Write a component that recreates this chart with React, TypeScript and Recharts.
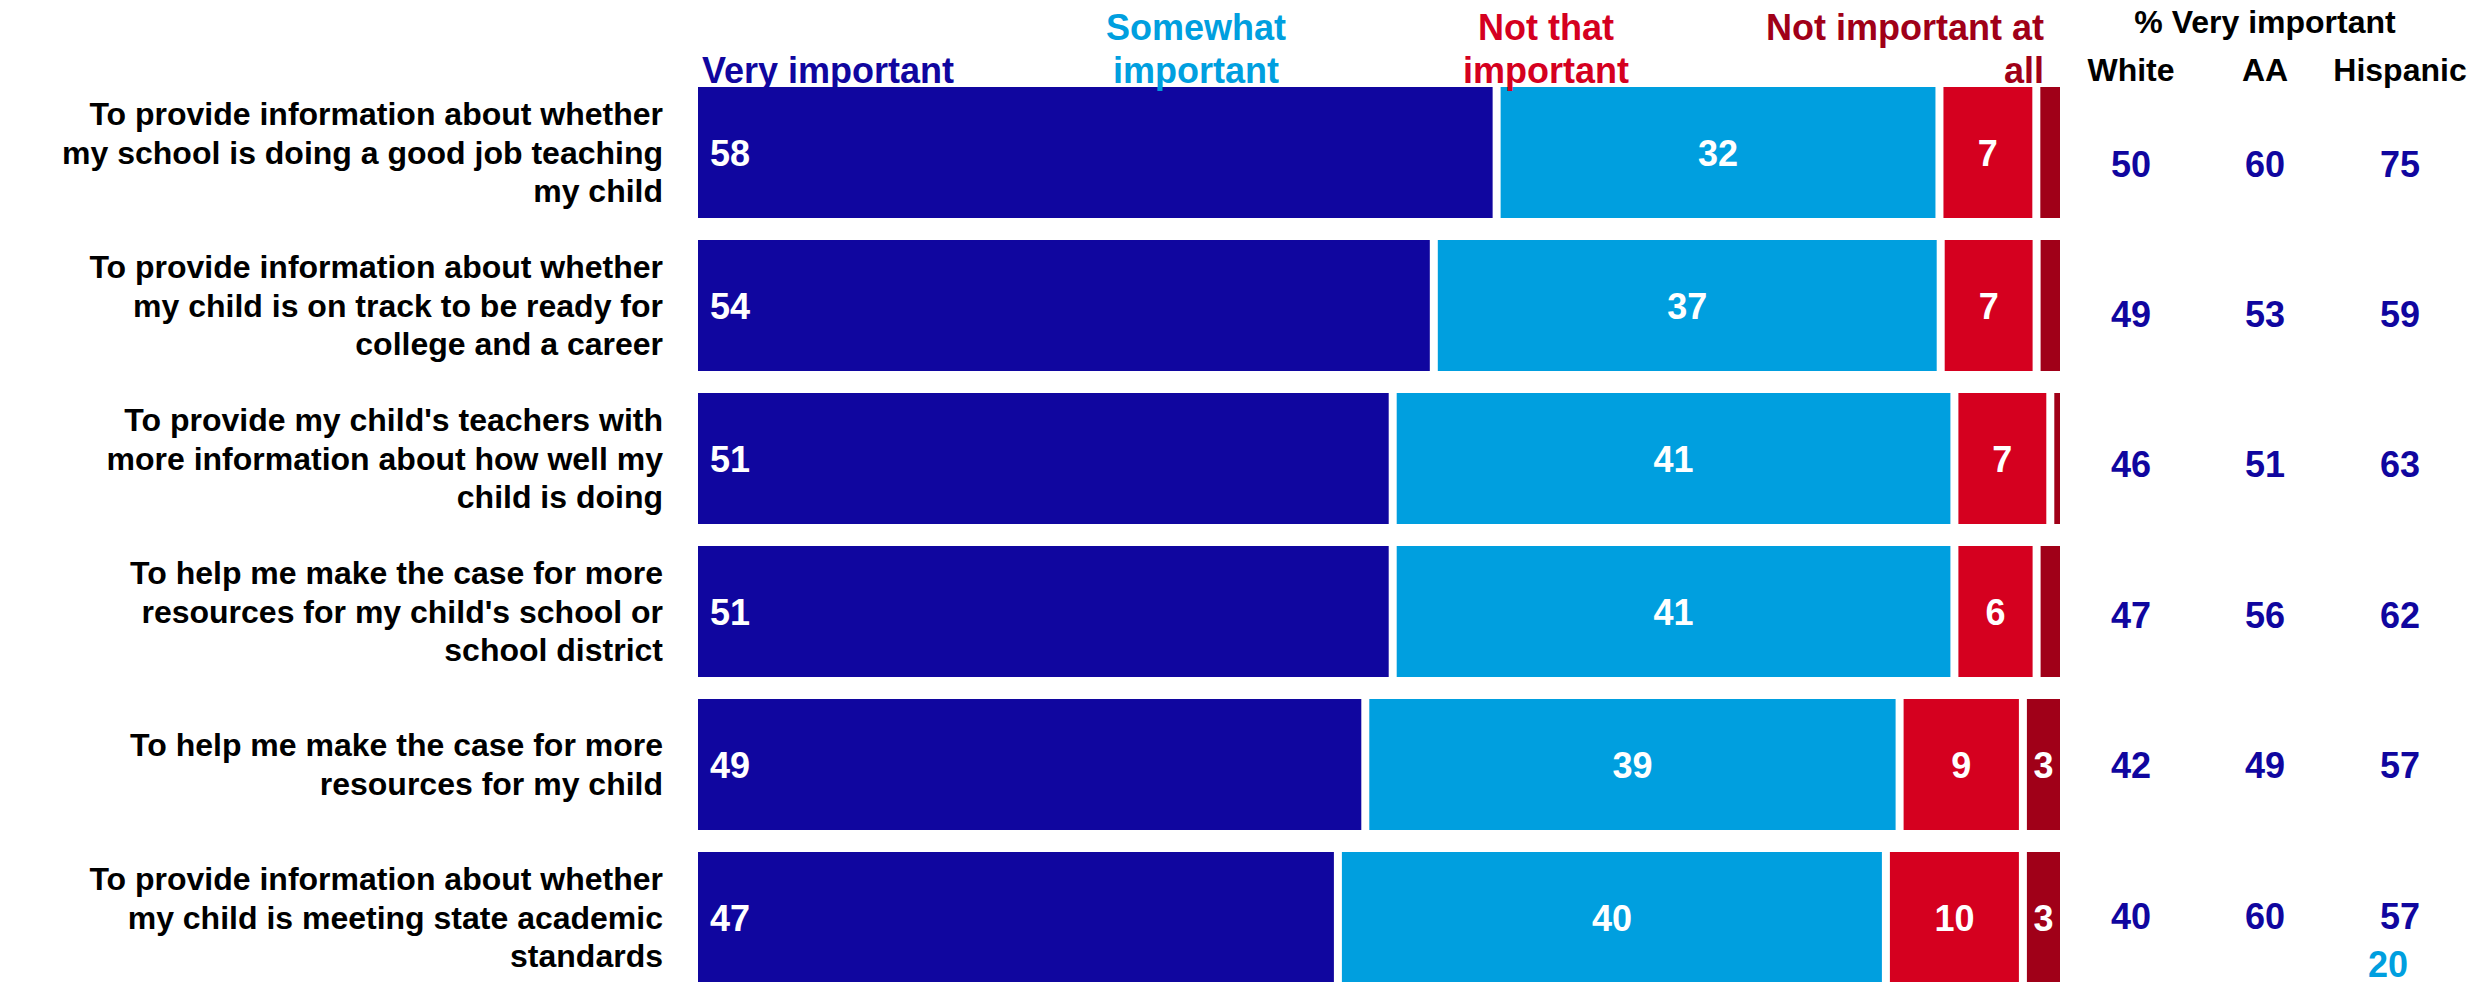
import { BarChart, Bar, XAxis, YAxis } from 'recharts'

const FONT = '"Liberation Sans", Arial, Helvetica, sans-serif'
const NAVY = '#10069F'
const CYAN = '#009FDF'
const RED = '#D5001F'
const DARK_RED = '#A00018'

// statements, "|" marks a line break in the label
const statements = [
  'To provide information about whether|my school is doing a good job teaching|my child',
  'To provide information about whether|my child is on track to be ready for|college and a career',
  "To provide my child's teachers with|more information about how well my|child is doing",
  "To help me make the case for more|resources for my child's school or|school district",
  'To help me make the case for more|resources for my child',
  'To provide information about whether|my child is meeting state academic|standards',
]

const veryImportant = [58, 54, 51, 51, 49, 47]
const somewhatImportant = [32, 37, 41, 41, 39, 40]
const notThatImportant = [7, 7, 7, 6, 9, 10]
const notImportantAtAll = [2, 2, 1, 2, 3, 3]

const whiteVery = [50, 49, 46, 47, 42, 40]
const aaVery = [60, 53, 51, 56, 49, 60]
const hispanicVery = [75, 59, 63, 62, 57, 57]
const groupLabels = ['White', 'AA', 'Hispanic']
const groupOffsets = [67, 201, 336]

const data = statements.map((s, i) => ({
  name: s,
  very: veryImportant[i],
  somewhat: somewhatImportant[i],
  notThat: notThatImportant[i],
  notAtAll: notImportantAtAll[i],
}))

// each segment is inset 4px on both sides so the stack shows white gaps
function makeSegment(values: number[], align: 'start' | 'middle', minLabel = 0) {
  // eslint-disable-next-line @typescript-eslint/no-explicit-any
  return (props: any) => {
    const { x, y, width, height, fill, index } = props
    const w = Math.max(width - 8, 0)
    const v = values[index]
    const tx = align === 'start' ? x + 16 : x + width / 2
    return (
      <g>
        <rect x={x + 4} y={y} width={w} height={height} fill={fill} />
        {v >= minLabel && (
          <text
            x={tx}
            y={y + height / 2 + 13}
            textAnchor={align}
            fill="#fff"
            fontSize={36}
            fontWeight="bold"
            fontFamily={FONT}
          >
            {v}
          </text>
        )}
      </g>
    )
  }
}

// eslint-disable-next-line @typescript-eslint/no-explicit-any
function StatementTick({ x, y, payload }: any) {
  const lines = String(payload.value).split('|')
  const lh = 38.5
  return (
    <text textAnchor="end" fontFamily={FONT} fontSize={32} fontWeight="bold" fill="#000">
      {lines.map((l, i) => (
        <tspan key={i} x={x - 31} y={y + (i - (lines.length - 1) / 2) * lh + 11}>
          {l}
        </tspan>
      ))}
    </text>
  )
}

// eslint-disable-next-line @typescript-eslint/no-explicit-any
function GroupTick({ x, y, index }: any) {
  const vals = [whiteVery[index], aaVery[index], hispanicVery[index]]
  const dy = 24 - 2.6 * index
  return (
    <g>
      {vals.map((v, c) => (
        <text
          key={c}
          x={x + groupOffsets[c]}
          y={y + dy}
          textAnchor="middle"
          fontFamily={FONT}
          fontSize={36}
          fontWeight="bold"
          fill={NAVY}
        >
          {v}
        </text>
      ))}
    </g>
  )
}

function Headers() {
  const t = { fontFamily: FONT, fontWeight: 'bold' as const }
  return (
    <svg
      width={2473}
      height={982}
      style={{ position: 'absolute', left: 0, top: 0, pointerEvents: 'none' }}
    >
      <text x={702} y={83} fontSize={36} fill={NAVY} {...t}>Very important</text>
      <text textAnchor="middle" fontSize={36} fill={CYAN} {...t}>
        <tspan x={1196} y={40}>Somewhat</tspan>
        <tspan x={1196} y={83}>important</tspan>
      </text>
      <text textAnchor="middle" fontSize={36} fill={RED} {...t}>
        <tspan x={1546} y={40}>Not that</tspan>
        <tspan x={1546} y={83}>important</tspan>
      </text>
      <text textAnchor="end" fontSize={36} fill={DARK_RED} {...t}>
        <tspan x={2044} y={40}>Not important at</tspan>
        <tspan x={2044} y={83}>all</tspan>
      </text>
      <text x={2265} y={33} textAnchor="middle" fontSize={32} fill="#000" {...t}>% Very important</text>
      {groupLabels.map((g, i) => (
        <text key={g} x={2064 + groupOffsets[i]} y={81} textAnchor="middle" fontSize={32} fill="#000" {...t}>
          {g}
        </text>
      ))}
      <text x={2388} y={977} textAnchor="middle" fontSize={36} fill={CYAN} {...t}>20</text>
    </svg>
  )
}

export default function App() {
  return (
    <div
      style={{
        position: 'fixed',
        left: 0,
        top: 0,
        width: 2473,
        height: 982,
        overflow: 'hidden',
        background: '#fff',
      }}
    >
      <BarChart
        width={2473}
        height={1000}
        data={data}
        layout="vertical"
        stackOffset="expand"
        margin={{ top: 76, right: 0, bottom: 6, left: 0 }}
        barSize={131}
      >
        <XAxis type="number" hide domain={[0, 1]} />
        <YAxis
          type="category"
          dataKey="name"
          width={694}
          axisLine={false}
          tickLine={false}
          tickSize={0}
          tickMargin={0}
          interval={0}
          tick={<StatementTick />}
        />
        <YAxis
          yAxisId="right"
          orientation="right"
          type="category"
          dataKey="name"
          width={409}
          axisLine={false}
          tickLine={false}
          tickSize={0}
          tickMargin={0}
          interval={0}
          tick={<GroupTick />}
        />
        <Bar dataKey="very" stackId="a" fill={NAVY} isAnimationActive={false} shape={makeSegment(veryImportant, 'start')} />
        <Bar dataKey="somewhat" stackId="a" fill={CYAN} isAnimationActive={false} shape={makeSegment(somewhatImportant, 'middle')} />
        <Bar dataKey="notThat" stackId="a" fill={RED} isAnimationActive={false} shape={makeSegment(notThatImportant, 'middle')} />
        <Bar dataKey="notAtAll" stackId="a" fill={DARK_RED} isAnimationActive={false} shape={makeSegment(notImportantAtAll, 'middle', 3)} />
      </BarChart>
      <Headers />
    </div>
  )
}
